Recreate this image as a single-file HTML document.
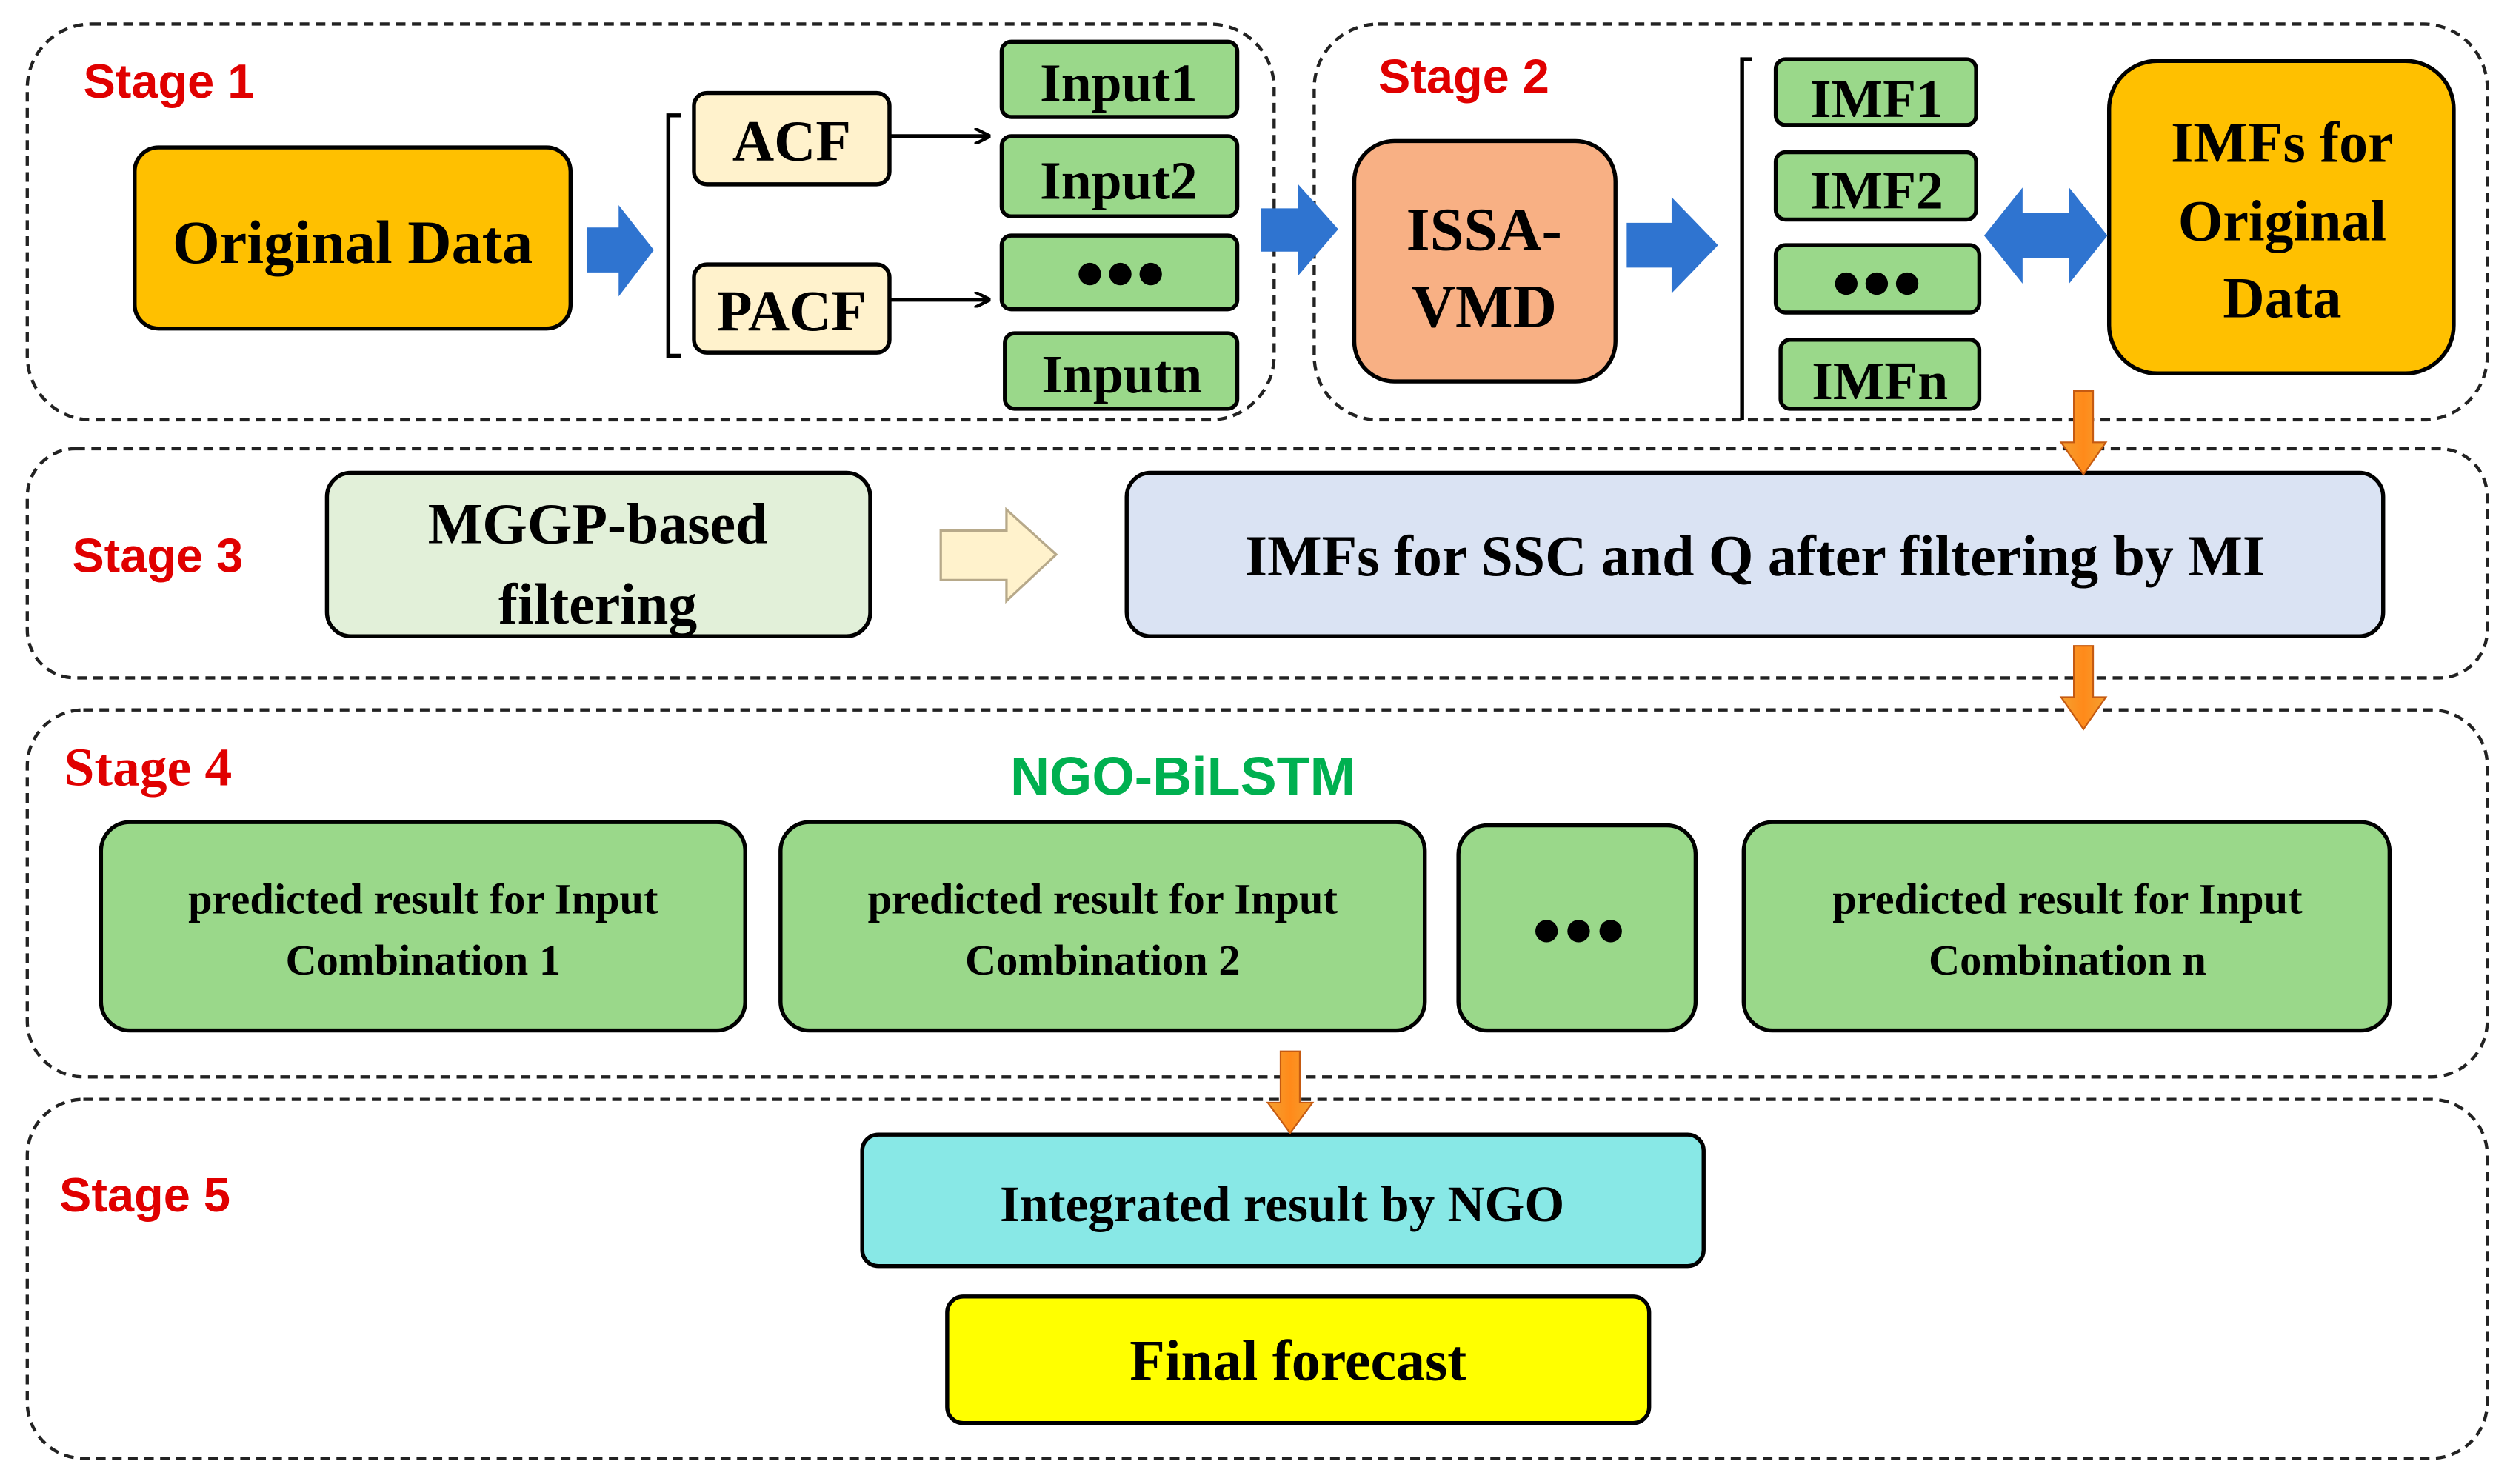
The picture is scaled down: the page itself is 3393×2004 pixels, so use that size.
<!DOCTYPE html>
<html><head><meta charset="utf-8"><style>html,body{margin:0;padding:0;background:#fff}svg{display:block}</style></head>
<body>
<svg width="3393" height="2004" viewBox="0 0 1568 926" preserveAspectRatio="none" xmlns="http://www.w3.org/2000/svg">
<defs>
<marker id="ah" markerWidth="10" markerHeight="10" refX="9" refY="5" orient="auto" markerUnits="userSpaceOnUse"><path d="M0,0 L10,5 L0,10" fill="none" stroke="#000" stroke-width="2"/></marker>
<linearGradient id="og" x1="0" x2="1"><stop offset="0" stop-color="#F4A030"/><stop offset="0.5" stop-color="#FF8A1A"/><stop offset="1" stop-color="#F4A030"/></linearGradient>
</defs>
<g fill="none" stroke="#222" stroke-width="2" stroke-dasharray="6,4">
<rect x="17" y="15" width="778" height="247" rx="40"/>
<rect x="820" y="15" width="732" height="247" rx="40"/>
<rect x="17" y="280" width="1535" height="143" rx="30"/>
<rect x="17" y="443" width="1535" height="229" rx="35"/>
<rect x="17" y="686" width="1535" height="224" rx="35"/>
</g>
<g font-family="Liberation Sans, sans-serif" font-weight="bold" font-size="30" fill="#E00000">
<text x="52" y="61">Stage 1</text>
<text x="860" y="58">Stage 2</text>
<text x="45" y="357">Stage 3</text>
<text x="40" y="490" font-family="Liberation Serif, serif" font-size="34">Stage 4</text>
<text x="37" y="756">Stage 5</text>
</g>
<g stroke="#000" stroke-width="2.5">
<rect x="84" y="92" width="272" height="113" rx="15" fill="#FFC000"/>
<rect x="433" y="58" width="122" height="57" rx="8" fill="#FFF2CC"/>
<rect x="433" y="165" width="122" height="55" rx="8" fill="#FFF2CC"/>
<rect x="625" y="26" width="147" height="47" rx="6" fill="#9AD88A"/>
<rect x="625" y="85" width="147" height="50" rx="6" fill="#9AD88A"/>
<rect x="625" y="147" width="147" height="46" rx="6" fill="#9AD88A"/>
<rect x="627" y="208" width="145" height="47" rx="6" fill="#9AD88A"/>
<rect x="845" y="88" width="163" height="150" rx="25" fill="#F8B084"/>
<rect x="1108" y="37" width="125" height="41" rx="6" fill="#9AD88A"/>
<rect x="1108" y="95" width="125" height="42" rx="6" fill="#9AD88A"/>
<rect x="1108" y="153" width="127" height="42" rx="6" fill="#9AD88A"/>
<rect x="1111" y="212" width="124" height="43" rx="6" fill="#9AD88A"/>
<rect x="1316" y="38" width="215" height="195" rx="30" fill="#FFC000"/>
<rect x="204" y="295" width="339" height="102" rx="15" fill="#E2F0D9"/>
<rect x="703" y="295" width="784" height="102" rx="15" fill="#DAE3F3"/>
<rect x="63" y="513" width="402" height="130" rx="18" fill="#9AD88A"/>
<rect x="487" y="513" width="402" height="130" rx="18" fill="#9AD88A"/>
<rect x="910" y="515" width="148" height="128" rx="18" fill="#9AD88A"/>
<rect x="1088" y="513" width="403" height="130" rx="18" fill="#9AD88A"/>
<rect x="538" y="708" width="525" height="82" rx="10" fill="#88E8E6"/>
<rect x="591" y="809" width="438" height="79" rx="10" fill="#FFFF00"/>
</g>
<g fill="none" stroke="#000" stroke-width="2.5">
<path d="M425,72 H417 V222 H425"/>
<path d="M1093,37 H1087 V262"/>
</g>
<line x1="555" y1="85" x2="617" y2="85" stroke="#000" stroke-width="2.5" marker-end="url(#ah)"/>
<line x1="555" y1="187" x2="617" y2="187" stroke="#000" stroke-width="2.5" marker-end="url(#ah)"/>
<g fill="#2F74D0">
<path d="M366,142 H386 V128 L408,156 L386,185 V170 H366 Z"/>
<path d="M787,130 H810 V115 L835,143 L810,172 V157 H787 Z"/>
<path d="M1015,139 H1043 V123 L1072,153 L1043,183 V167 H1015 Z"/>
<path d="M1238,147 L1262,117 V133 H1291 V117 L1315,147 L1291,177 V161 H1262 V177 Z"/>
</g>
<path d="M587,331 H628 V318 L659,346 L628,375 V362 H587 Z" fill="#FFF2CC" stroke="#B7A98A" stroke-width="1.5"/>
<g fill="url(#og)" stroke="#C55A11" stroke-width="1">
<path d="M1294,244 H1306 V276 H1314 L1300,296 L1286,276 H1294 Z"/>
<path d="M1294,403 H1306 V435 H1314 L1300,455 L1286,435 H1294 Z"/>
<path d="M799,656 H811 V688 H819 L805,707 L791,688 H799 Z"/>
</g>
<g font-family="Liberation Serif, serif" font-weight="bold" fill="#000" text-anchor="middle">
<text x="220" y="164" font-size="38">Original Data</text>
<text x="494" y="100" font-size="36">ACF</text>
<text x="494" y="206" font-size="36">PACF</text>
<text x="698" y="63" font-size="34">Input1</text>
<text x="698" y="124" font-size="34">Input2</text>
<text x="700" y="245" font-size="34">Inputn</text>
<text x="926" y="156" font-size="38">ISSA-</text>
<text x="926" y="204" font-size="38">VMD</text>
<text x="1171" y="73" font-size="34">IMF1</text>
<text x="1171" y="130" font-size="34">IMF2</text>
<text x="1173" y="249" font-size="34">IMFn</text>
<text x="1424" y="101" font-size="36">IMFs for</text>
<text x="1424" y="150" font-size="36">Original</text>
<text x="1424" y="198" font-size="36">Data</text>
<text x="373" y="339" font-size="36">MGGP-based</text>
<text x="373" y="389" font-size="36">filtering</text>
<text x="1095" y="359" font-size="36">IMFs for SSC and Q after   filtering by MI</text>
<text x="264" y="570" font-size="27">predicted result for Input</text>
<text x="264" y="608" font-size="27">Combination 1</text>
<text x="688" y="570" font-size="27">predicted result for Input</text>
<text x="688" y="608" font-size="27">Combination 2</text>
<text x="1290" y="570" font-size="27">predicted result for Input</text>
<text x="1290" y="608" font-size="27">Combination n</text>
<text x="800" y="762" font-size="32">Integrated result by NGO</text>
<text x="810" y="861" font-size="36">Final forecast</text>
</g>
<text x="738" y="496" font-family="Liberation Sans, sans-serif" font-weight="bold" font-size="34" fill="#00B050" text-anchor="middle">NGO-BiLSTM</text>
<g fill="#000">
<circle cx="680" cy="171" r="7"/><circle cx="699" cy="171" r="7"/><circle cx="718" cy="171" r="7"/>
<circle cx="1152" cy="177" r="7"/><circle cx="1171" cy="177" r="7"/><circle cx="1190" cy="177" r="7"/>
<circle cx="965" cy="581" r="7"/><circle cx="985" cy="581" r="7"/><circle cx="1005" cy="581" r="7"/>
</g>
</svg>
</body></html>
